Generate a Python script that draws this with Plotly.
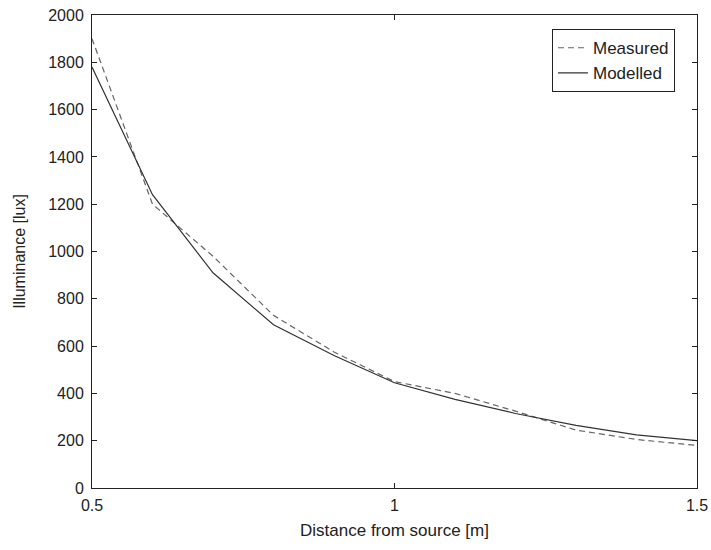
import plotly.graph_objects as go

distance = [0.5, 0.6, 0.7, 0.8, 0.9, 1.0, 1.1, 1.2, 1.3, 1.4, 1.5]
measured = [1900, 1200, 980, 730, 575, 450, 400, 325, 245, 205, 180]
modelled = [1780, 1240, 910, 690, 560, 445, 375, 315, 265, 225, 200]

fig = go.Figure()
fig.add_trace(go.Scatter(x=distance, y=measured, mode="lines", name="Measured",
                         line=dict(color="#666666", width=1.2, dash="6px,4px")))
fig.add_trace(go.Scatter(x=distance, y=modelled, mode="lines", name="Modelled",
                         line=dict(color="#333333", width=1.2)))

axis_common = dict(showgrid=False, zeroline=False, showline=True, linecolor="#222222",
                   linewidth=1, mirror="ticks", ticks="inside", ticklen=5,
                   tickcolor="#222222", tickfont=dict(size=16, color="#222222"),
                   automargin=False)

fig.update_layout(
    width=711, height=550,
    margin=dict(l=92, r=14, t=15, b=62),
    paper_bgcolor="white", plot_bgcolor="white",
    font=dict(family="Liberation Sans, Arial, sans-serif", size=14, color="#222222"),
    xaxis=dict(range=[0.5, 1.5], tickvals=[0.5, 1, 1.5], ticktext=["0.5", "1", "1.5"],
               ticklabelstandoff=3,
               title=dict(text="Distance from source [m]", standoff=10, font=dict(size=17)),
               **axis_common),
    yaxis=dict(range=[0, 2000], dtick=200, ticklabelstandoff=4,
               title=dict(text="Illuminance [lux]", standoff=18, font=dict(size=16)),
               **axis_common),
    legend=dict(x=0.9636, y=0.970, xanchor="right", yanchor="top",
                bordercolor="#222222", borderwidth=1, bgcolor="white",
                font=dict(size=17), tracegroupgap=0, entrywidth=120),
    showlegend=True,
)

fig.write_html("out.html")
